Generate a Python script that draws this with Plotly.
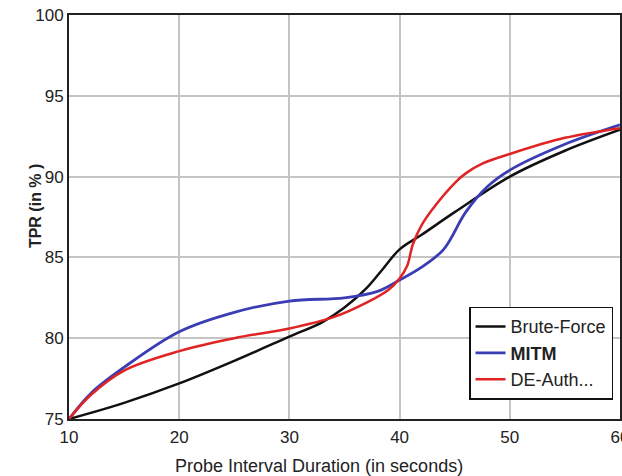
import plotly.graph_objects as go

# Data
bf_x = [10, 15, 20, 25, 30, 33, 35, 37, 38.5, 40, 42, 45, 50, 55, 60]
bf_y = [75, 76.0, 77.2, 78.6, 80.1, 81.0, 81.9, 83.1, 84.3, 85.5, 86.4, 87.8, 90.0, 91.6, 92.9]

mitm_x = [10, 12, 15, 20, 25, 30, 35, 38, 40, 42, 44, 46, 48, 50, 55, 60]
mitm_y = [75, 76.6, 78.2, 80.4, 81.6, 82.3, 82.5, 82.9, 83.6, 84.4, 85.5, 87.8, 89.4, 90.4, 92.0, 93.2]

de_x = [10, 12, 15, 20, 25, 30, 34, 37, 39, 40, 40.7, 41.2, 42, 43, 45, 46, 47.5, 50, 55, 60]
de_y = [75, 76.5, 78.0, 79.2, 80.0, 80.6, 81.3, 82.2, 83.0, 83.7, 84.5, 85.8, 87.0, 88.0, 89.6, 90.2, 90.8, 91.4, 92.4, 93.0]

x_ticks = [10, 20, 30, 40, 50, 60]
y_ticks = [75, 80, 85, 90, 95, 100]

FONT = "Liberation Sans, Arial, sans-serif"
TXT = "#222222"

fig = go.Figure()
fig.add_trace(go.Scatter(x=bf_x, y=bf_y, mode="lines", name="Brute-Force",
                         line=dict(color="#111111", width=2.5, shape="spline", smoothing=1.0)))
fig.add_trace(go.Scatter(x=mitm_x, y=mitm_y, mode="lines", name="<b>MITM</b>",
                         line=dict(color="#3b3db5", width=2.8, shape="spline", smoothing=1.0)))
fig.add_trace(go.Scatter(x=de_x, y=de_y, mode="lines", name="DE-Auth...",
                         line=dict(color="#e02424", width=2.5, shape="spline", smoothing=1.0)))

fig.update_layout(
    width=622, height=476,
    margin=dict(l=69, r=2, t=15, b=57, autoexpand=False),
    paper_bgcolor="white", plot_bgcolor="white",
    font=dict(family=FONT, size=17, color=TXT),
    showlegend=True,
    legend=dict(x=0.726, y=0.278, xanchor="left", yanchor="top",
                bgcolor="white", bordercolor="#111111", borderwidth=1.5,
                font=dict(family=FONT, size=18, color=TXT),
                tracegroupgap=0),
    xaxis=dict(range=[10, 60], tickvals=x_ticks, ticktext=[str(v) for v in x_ticks],
               showgrid=True, gridcolor="#c4c4c4", gridwidth=2,
               showline=True, linecolor="#222222", linewidth=2, mirror=True,
               zeroline=False, ticks="", ticklen=0, automargin=False,
               ticklabeloverflow="allow", ticklabelstandoff=2,
               tickfont=dict(family=FONT, size=17, color=TXT)),
    yaxis=dict(range=[75, 100], tickvals=y_ticks, ticktext=[str(v) for v in y_ticks],
               showgrid=True, gridcolor="#c4c4c4", gridwidth=2,
               showline=True, linecolor="#222222", linewidth=2, mirror=True,
               zeroline=False, ticks="", ticklen=0, automargin=False,
               tickfont=dict(family=FONT, size=17, color=TXT)),
    annotations=[
        dict(text="Probe Interval Duration (in seconds)", xref="paper", yref="paper",
             x=0.453, y=0, xanchor="center", yanchor="middle", yshift=-47,
             showarrow=False, font=dict(family=FONT, size=18, color=TXT)),
        dict(text="<b>TPR (in % )</b>", xref="paper", yref="paper",
             x=0, y=0.527, xanchor="center", yanchor="middle", xshift=-34,
             textangle=-90, showarrow=False, font=dict(family=FONT, size=16, color=TXT)),
    ],
)

fig.write_html("out.html", config={"displayModeBar": False},
               post_script="document.body.style.margin='0';document.body.style.overflow='hidden';")
